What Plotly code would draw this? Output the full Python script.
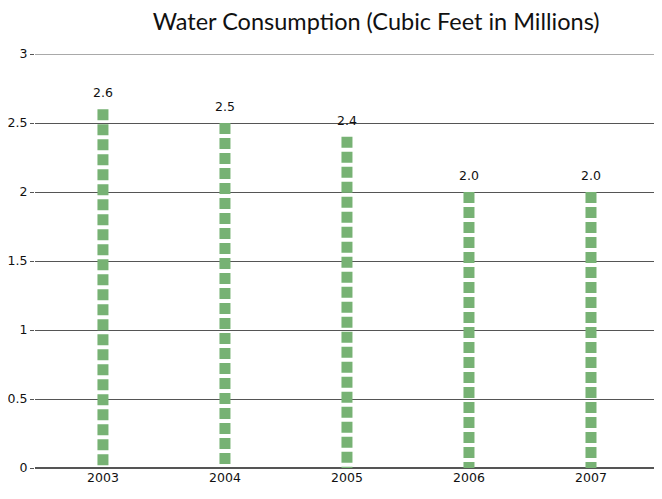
import plotly.graph_objects as go

years = ["2003", "2004", "2005", "2006", "2007"]
values = [2.6, 2.5, 2.4, 2.0, 2.0]
value_labels = ["2.6", "2.5", "2.4", "2.0", "2.0"]
y_ticks = [0, 0.5, 1, 1.5, 2, 2.5, 3]
y_tick_labels = ["0", "0.5", "1", "1.5", "2", "2.5", "3"]

bar_color = "#77b274"
title_font = "Lato, 'Noto Sans', sans-serif"
label_font = "'DejaVu Sans', sans-serif"

fig = go.Figure()
for i, (yr, v) in enumerate(zip(years, values)):
    fig.add_trace(go.Scatter(
        x=[i, i], y=[v, 0], mode="lines",
        line=dict(color=bar_color, width=11, dash="11px,4px"),
        hoverinfo="skip", showlegend=False,
    ))

for i, (v, t) in enumerate(zip(values, value_labels)):
    fig.add_annotation(x=i, y=v, text=t, showarrow=False, yanchor="bottom",
                       yshift=7, font=dict(size=12.5, color="#111", family=label_font))

# top gridline (plotly drops gridlines lying on the plot edge)
fig.add_shape(type="line", xref="paper", x0=0, x1=1, yref="y", y0=y_ticks[-1], y1=y_ticks[-1],
              line=dict(color="#555", width=1), layer="below")

fig.update_layout(
    width=654, height=491,
    margin=dict(l=27, r=0, t=46, b=31),
    paper_bgcolor="white", plot_bgcolor="white",
    title=dict(text="Water Consumption (Cubic Feet in Millions)", x=0.563, xanchor="center",
               y=1 - 14 / 491, yref="container", yanchor="middle",
               font=dict(size=23.5, color="#111", family=title_font)),
    font=dict(family=label_font, size=12.5, color="#111"),
    showlegend=False,
)
fig.update_xaxes(
    range=[-0.557, 4.582], tickmode="array", tickvals=list(range(len(years))), ticktext=years,
    showgrid=False, zeroline=False, showline=False, ticks="", tickfont=dict(size=12.5),
)
fig.update_yaxes(
    range=[0, 3], tickmode="array", tickvals=y_ticks, ticktext=y_tick_labels,
    showgrid=True, gridcolor="#555", gridwidth=1,
    zeroline=True, zerolinecolor="#555", zerolinewidth=2,
    ticks="outside", ticklen=4, tickcolor="#555", tickfont=dict(size=12.5),
    showline=False,
)
fig.write_html("out.html")
